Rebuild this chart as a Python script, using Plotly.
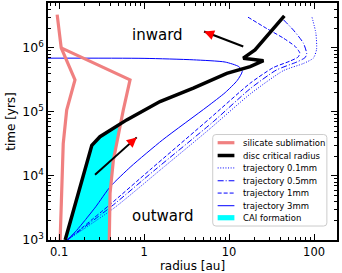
import numpy as np
import plotly.graph_objects as go

# ---------------- data (radius in au, time in yrs) ----------------
sil_inner_r = [0.103, 0.112, 0.123, 0.154, 0.106, 0.095]
sil_inner_t = [1e3, 3.2e4, 1.07e5, 3.16e5, 1e6, 3.3e6]
sil_outer_r = [0.39, 0.398, 0.436, 0.52, 0.57, 0.684, 0.106]
sil_outer_t = [1e3, 5.35e3, 1.78e4, 5.9e4, 1.07e5, 3.16e5, 1e6]

crit_r = [0.118, 0.243, 0.303, 0.625, 1.54, 3.8, 9.4, 17.7, 25.4, 14.7, 20.2, 27.8, 36.3, 44.7]
crit_t = [1e3, 3.0e4, 4.1e4, 7.5e4, 1.45e5, 2.35e5, 4.0e5, 5.1e5, 6.3e5, 6.9e5, 9.3e5, 1.5e6, 2.3e6, 3.16e6]

cai_r = [0.118, 0.243, 0.303, 0.528, 0.52, 0.436, 0.398, 0.39]
cai_t = [1e3, 3.0e4, 4.1e4, 6.5e4, 5.9e4, 1.78e4, 5.35e3, 1e3]

tr01_r = [0.125, 0.45, 1.54, 6.0, 17.7, 43.5, 75, 98, 107, 105, 94]
tr01_t = [1e3, 3.2e3, 1.23e4, 5.5e4, 1.9e5, 4.4e5, 5.7e5, 6.9e5, 9.4e5, 1.7e6, 3.1e6]
tr05_r = [0.125, 0.42, 1.35, 6.5, 17.7, 36, 62.5, 78, 82, 75, 57, 39.8]
tr05_t = [1e3, 3.4e3, 1.25e4, 7e4, 2.3e5, 4.5e5, 6.0e5, 7.0e5, 8.0e5, 1.18e6, 1.9e6, 3.1e6]
tr1_r = [0.125, 0.4, 1.18, 6.0, 17.7, 33, 52, 65, 68, 60, 43.5, 27.8, 16.1]
tr1_t = [1e3, 3.6e3, 1.25e4, 8e4, 2.8e5, 4.9e5, 6.2e5, 7.2e5, 8.3e5, 1.05e6, 1.42e6, 2.0e6, 3.1e6]
tr3_r = [0.125, 0.16, 0.2, 0.27, 0.4, 0.7, 1.65, 5.5, 9, 12.5, 14.3, 13, 9, 3.8, 1.0, 0.07]
tr3_t = [1e3, 1.4e3, 2.0e3, 3.3e3, 6.8e3, 1.4e4, 3.65e4, 1.2e5, 2e5, 3.1e5, 4.3e5, 5.1e5, 6.0e5, 6.5e5, 6.85e5, 6.9e5]

# arrows: (tail_r, tail_t, tip_r, tip_t)
arrow_out = [0.265, 1.04e4, 0.82, 4.0e4]
arrow_in = [14.7, 1.05e6, 5.08, 1.8e6]

# region labels
label_texts = ["inward", "outward"]
label_r = [1.44, 1.67]
label_t = [1.6e6, 2.37e3]

x_tickvals = [0.1, 1, 10, 100]
x_ticktext = ["0.1", "1", "10", "100"]
y_tickvals = [1e3, 1e4, 1e5, 1e6]
y_ticktext = ["10<sup>3</sup>", "10<sup>4</sup>", "10<sup>5</sup>", "10<sup>6</sup>"]

legend_labels = ["silicate sublimation", "disc critical radius", "trajectory 0.1mm",
                 "trajectory 0.5mm", "trajectory 1mm", "trajectory 3mm", "CAI formation"]

# ---------------- styles ----------------
FONT = "DejaVu Sans"
SALMON = "#F08080"
BLUE = "#0000FF"
CYAN = "#00FFFF"
XR = [-1.13, 2.27]
YR = [3.0, 6.70]

fig = go.Figure()

fig.add_trace(go.Scatter(x=cai_r, y=cai_t, fill="toself", fillcolor=CYAN, mode="none",
                         showlegend=False, hoverinfo="skip"))

traj = [(tr01_r, tr01_t, "1px,1.6px"), (tr05_r, tr05_t, "6px,2px,1px,2px"),
        (tr1_r, tr1_t, "4px,2px"), (tr3_r, tr3_t, "solid")]
for r, t, d in traj:
    fig.add_trace(go.Scatter(x=r, y=t, mode="lines", line=dict(color=BLUE, width=1, dash=d,
                             shape="spline", smoothing=0.6), showlegend=False))

fig.add_trace(go.Scatter(x=sil_inner_r, y=sil_inner_t, mode="lines",
                         line=dict(color=SALMON, width=3.2), showlegend=False))
fig.add_trace(go.Scatter(x=sil_outer_r, y=sil_outer_t, mode="lines",
                         line=dict(color=SALMON, width=3.2), showlegend=False))
fig.add_trace(go.Scatter(x=crit_r, y=crit_t, mode="lines",
                         line=dict(color="black", width=3.5), showlegend=False))

# arrows
pxdx = 289 / (XR[1] - XR[0])
pxdy = 237 / (YR[1] - YR[0])
for a in (arrow_out, arrow_in):
    fig.add_trace(go.Scatter(x=[a[0], a[2]], y=[a[1], a[3]], mode="lines",
                             line=dict(color="black", width=2), showlegend=False))
    dx = (np.log10(a[0]) - np.log10(a[2])) * pxdx
    dy = -(np.log10(a[1]) - np.log10(a[3])) * pxdy
    n = np.hypot(dx, dy)
    fig.add_annotation(x=np.log10(a[2]), y=np.log10(a[3]), ax=dx / n * 9, ay=dy / n * 9,
                       showarrow=True, arrowhead=2, arrowsize=1, arrowwidth=2,
                       arrowcolor="red", text="")

for txt, r, t in zip(label_texts, label_r, label_t):
    fig.add_annotation(x=np.log10(r), y=np.log10(t), text=txt, showarrow=False,
                       font=dict(family=FONT, size=15, color="black"))

# manual legend (rounded box)
lx0, lx1, ly0, ly1 = 0.570, 0.965, 0.059, 0.445
rx, ry = 0.011, 0.013
legend_path = (f"M {lx0+rx},{ly0} L {lx1-rx},{ly0} Q {lx1},{ly0} {lx1},{ly0+ry} "
               f"L {lx1},{ly1-ry} Q {lx1},{ly1} {lx1-rx},{ly1} L {lx0+rx},{ly1} "
               f"Q {lx0},{ly1} {lx0},{ly1-ry} L {lx0},{ly0+ry} Q {lx0},{ly0} {lx0+rx},{ly0} Z")
fig.add_shape(type="path", xref="paper", yref="paper", path=legend_path,
              fillcolor="rgba(255,255,255,0.85)", line=dict(color="#cccccc", width=1), layer="above")
item_y = [0.4105, 0.3565, 0.304, 0.250, 0.198, 0.1447, 0.094]
styles = [(SALMON, 3.2, "solid"), ("black", 3.5, "solid"), (BLUE, 1, "1px,1.6px"),
          (BLUE, 1, "6px,2px,1px,2px"), (BLUE, 1, "4px,2px"), (BLUE, 1, "solid")]
sx0, sx1, tx = 0.587, 0.645, 0.668
for i, lab in enumerate(legend_labels):
    yy = item_y[i]
    if i < len(styles):
        c, w, d = styles[i]
        fig.add_shape(type="line", xref="paper", yref="paper", x0=sx0, x1=sx1, y0=yy, y1=yy,
                      line=dict(color=c, width=w, dash=d), layer="above")
    else:
        fig.add_shape(type="rect", xref="paper", yref="paper", x0=sx0, x1=sx1, y0=yy - 0.011,
                      y1=yy + 0.011, fillcolor=CYAN, line=dict(width=0), layer="above")
    fig.add_annotation(xref="paper", yref="paper", x=tx, y=yy, text=lab, showarrow=False,
                       xanchor="left", yanchor="middle",
                       font=dict(family=FONT, size=8.5, color="black"))

x_minor = [m * 10.0 ** k for k in range(-2, 3) for m in range(2, 10)]
y_minor = [m * 10.0 ** k for k in range(2, 7) for m in range(2, 10)]

axis_common = dict(showline=True, linecolor="black", linewidth=1.5, mirror="ticks",
                   ticks="inside", ticklen=6, tickwidth=1, tickcolor="black",
                   showgrid=False, zeroline=False, automargin=False)

fig.update_xaxes(type="log", range=XR, tickmode="array", tickvals=x_tickvals, ticktext=x_ticktext,
                 tickfont=dict(family=FONT, size=11.5, color="black"),
                 minor=dict(ticks="inside", ticklen=3, tickcolor="black", tickvals=x_minor, showgrid=False),
                 title=dict(text="radius [au]", font=dict(family=FONT, size=12, color="black"), standoff=3),
                 **axis_common)
fig.update_yaxes(type="log", range=YR, tickmode="array", tickvals=y_tickvals, ticktext=y_ticktext,
                 tickfont=dict(family=FONT, size=12.5, color="black"),
                 minor=dict(ticks="inside", ticklen=3, tickcolor="black", tickvals=y_minor, showgrid=False),
                 title=dict(text="time [yrs]", font=dict(family=FONT, size=12, color="black"), standoff=4),
                 **axis_common)

fig.update_layout(width=342, height=273, margin=dict(l=48, r=5, t=3, b=33),
                  plot_bgcolor="white", paper_bgcolor="white",
                  font=dict(family=FONT, color="black"), showlegend=False)

fig.write_html("out.html", config={"displayModeBar": False},
               post_script="document.body.style.margin='0px';")
